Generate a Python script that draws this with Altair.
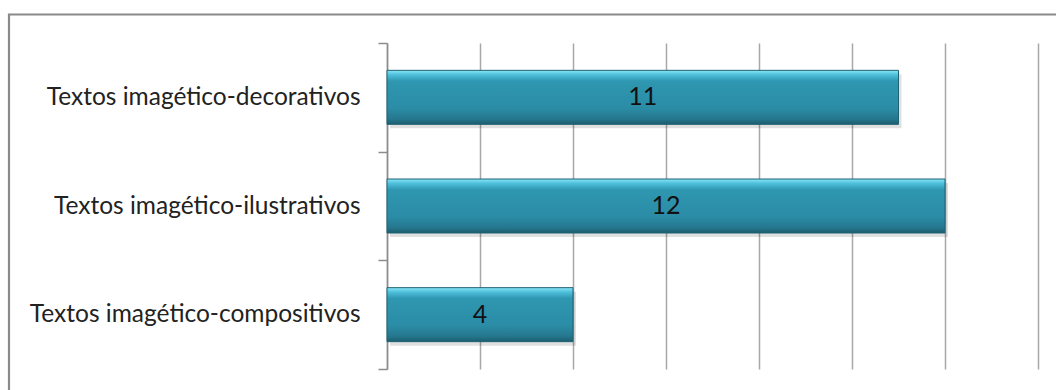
import altair as alt
import pandas as pd

categories = ["Textos imagético-decorativos", "Textos imagético-ilustrativos", "Textos imagético-compositivos"]
values = [11, 12, 4]
grid_values = [0, 2, 4, 6, 8, 10, 12, 14]

df = pd.DataFrame({"cat": categories, "val": values})
FONT = "Lato"

y_enc = alt.Y("cat:N", sort=categories, title=None,
              scale=alt.Scale(paddingInner=0, paddingOuter=0),
              axis=alt.Axis(labelFont=FONT, labelFontSize=24.5, labelColor="#222222",
                            labelPadding=18, tickSize=9, tickColor="#8c8c8c", tickWidth=1.5,
                            tickBand="extent", domainColor="#8c8c8c", domainWidth=1.5,
                            grid=False, labelLimit=400))
x_enc = alt.X("val:Q", title=None, scale=alt.Scale(domain=[0, 14], nice=False),
              axis=alt.Axis(values=grid_values, labels=False, ticks=False, domain=False,
                            grid=True, gridColor="#a8a8a8", gridWidth=1.5))

base = alt.Chart(df)
BAR_H = 54

shadow = base.mark_bar(color="#000000", opacity=0.12, size=BAR_H, xOffset=3, x2Offset=4,
                       yOffset=4, y2Offset=4).encode(x=x_enc, y=y_enc)

grad = alt.Gradient(
    gradient="linear",
    stops=[
        alt.GradientStop(color="#8ae6f7", offset=0),
        alt.GradientStop(color="#4fc0dc", offset=0.08),
        alt.GradientStop(color="#2f97b1", offset=0.2),
        alt.GradientStop(color="#2b8ca6", offset=0.7),
        alt.GradientStop(color="#25778e", offset=0.9),
        alt.GradientStop(color="#1c5d6e", offset=1),
    ],
    x1=0, x2=0, y1=0, y2=1,
)
bars = base.mark_bar(color=grad, stroke="#1f6273", strokeWidth=1, size=BAR_H).encode(x=x_enc, y=y_enc)

labels = base.transform_calculate(mid="datum.val / 2").mark_text(
    font=FONT, fontSize=25, color="#111111", baseline="middle", align="center"
).encode(x=alt.X("mid:Q"), y=alt.Y("cat:N", sort=categories), text="val:Q")

border = alt.Chart(pd.DataFrame({"a": [0]})).mark_rect(
    fill="transparent", stroke="#8a8a8a", strokeWidth=2.2
).encode(x=alt.value(-378), x2=alt.value(700), y=alt.value(-28.5), y2=alt.value(400))

chart = alt.layer(shadow, bars, labels, border).properties(
    width=651, height=326,
    autosize=alt.AutoSizeParams(type="none"),
    padding={"left": 387, "top": 43, "right": 18, "bottom": 21},
    background="white",
).configure_view(stroke=None)

chart.save("out.html", embed_options={"renderer": "svg", "actions": False})
